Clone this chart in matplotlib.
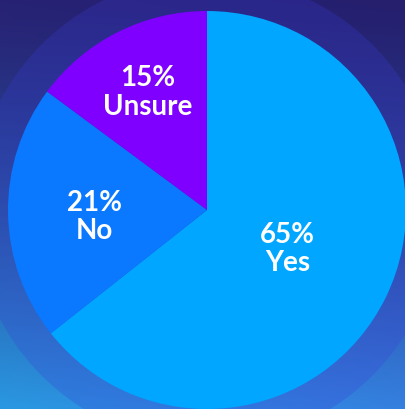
import numpy as np
import matplotlib
matplotlib.use('Agg')
import matplotlib.pyplot as plt
from matplotlib.colors import to_rgb
from matplotlib.patches import Circle

labels = ['Yes', 'No', 'Unsure']
values = [65, 21, 15]
colors = ['#00A6FF', '#0A78FF', '#7F00FF']

# label placement: fraction of radius, and angle nudge (deg) from wedge middle
label_dist = [0.45, 0.565, 0.66]
label_nudge = [0, 2.7, 0]

W, H = 405, 409
fig = plt.figure(figsize=(W / 100, H / 100), dpi=100)
ax = fig.add_axes([0, 0, 1, 1])

# background gradient (corner colours)
tl, tr = np.array(to_rgb('#272274')), np.array(to_rgb('#251F6E'))
bl, br = np.array(to_rgb('#2A98E2')), np.array(to_rgb('#3580E0'))
yy, xx = np.mgrid[0:1:200j, 0:1:200j]
yy = yy[..., None]
xx = xx[..., None]
top = tl * (1 - xx) + tr * xx
bot = bl * (1 - xx) + br * xx
t = yy ** 1.3
grad = top * (1 - t) + bot * t
ax.imshow(grad, extent=(0, W, 0, H), origin='upper', zorder=0, aspect='auto')

cx, cy, r = 207, H - 210, 199
ax.add_patch(Circle((cx, cy), 234, color='#3A3CD8', alpha=0.25, lw=0, zorder=1))

wedges, _ = ax.pie(values, colors=colors, startangle=90, counterclock=False,
                   center=(cx, cy), radius=r, wedgeprops=dict(linewidth=0))
for w in wedges:
    w.set_zorder(2)

for w, lab, v, d, nd in zip(wedges, labels, values, label_dist, label_nudge):
    ang = np.deg2rad((w.theta1 + w.theta2) / 2 + nd)
    x = cx + d * r * np.cos(ang)
    y = cy + d * r * np.sin(ang)
    ax.text(x, y, f'{v}%\n{lab}', ha='center', va='center', color='white',
            fontsize=20, fontweight='bold', family='Lato',
            linespacing=1.12, zorder=3)

ax.set_xlim(0, W)
ax.set_ylim(0, H)
ax.set_aspect('equal')
ax.axis('off')

fig.savefig('out.png', dpi=100)
